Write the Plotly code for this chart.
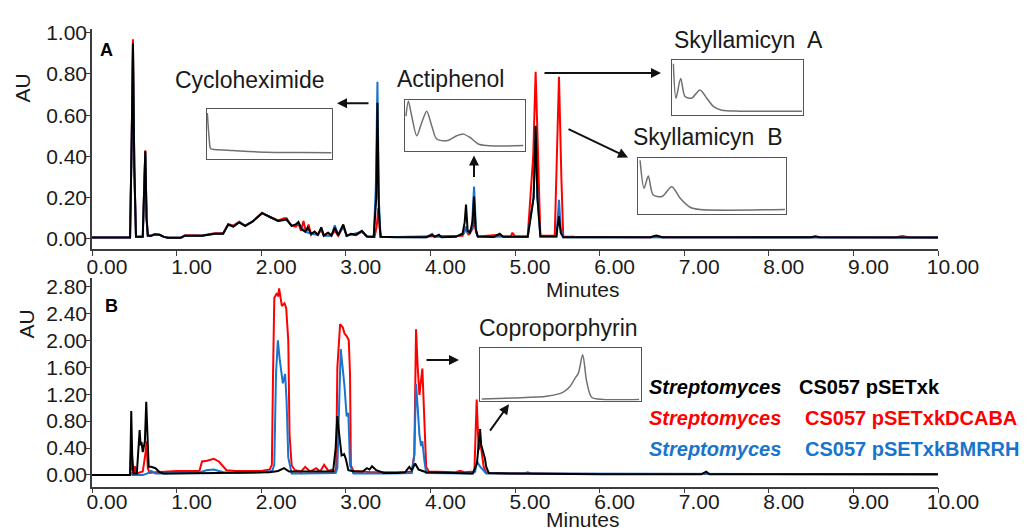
import plotly.graph_objects as go

# ---------------- DATA ----------------
# Panel A chromatograms (time in minutes, absorbance in AU)
a_black_t = [0, 0.45, 0.47, 0.484, 0.50, 0.52, 0.60, 0.615, 0.63, 0.645, 0.66, 0.70, 0.74, 0.80, 0.85, 0.90, 1.05, 1.10, 1.30, 1.45, 1.55,
             1.61, 1.67, 1.74, 1.81, 1.90, 2.01, 2.11, 2.20, 2.30, 2.36, 2.41, 2.44, 2.48, 2.52, 2.55, 2.59, 2.63, 2.67, 2.71, 2.74,
             2.79, 2.83, 2.87, 2.91, 2.97, 3.01, 3.06, 3.12, 3.19, 3.25, 3.33, 3.36, 3.374, 3.39, 3.41, 3.6, 3.95, 4.02, 4.05, 4.10,
             4.13, 4.30, 4.38, 4.405, 4.421, 4.44, 4.47, 4.50, 4.516, 4.535, 4.56, 4.75, 4.82, 4.86, 5.15, 5.22, 5.244, 5.265, 5.30,
             5.49, 5.50, 5.52, 5.54, 5.57, 6.6, 6.67, 6.74, 8.5, 8.55, 8.6, 10.0]
a_black_v = [0.007, 0.007, 0.5, 0.95, 0.35, 0.01, 0.01, 0.2, 0.425, 0.1, 0.015, 0.015, 0.022, 0.02, 0.01, 0.006, 0.006, 0.016, 0.015, 0.025, 0.025,
             0.07, 0.06, 0.08, 0.063, 0.085, 0.125, 0.105, 0.087, 0.095, 0.063, 0.07, 0.082, 0.045, 0.035, 0.055, 0.025, 0.035, 0.02, 0.056, 0.016,
             0.03, 0.016, 0.055, 0.018, 0.07, 0.015, 0.025, 0.02, 0.039, 0.012, 0.01, 0.2, 0.66, 0.15, 0.01, 0.008, 0.008, 0.02, 0.01, 0.02,
             0.008, 0.01, 0.025, 0.08, 0.167, 0.04, 0.03, 0.09, 0.206, 0.05, 0.012, 0.01, 0.025, 0.01, 0.01, 0.2, 0.548, 0.2, 0.012,
             0.012, 0.05, 0.11, 0.03, 0.008, 0.008, 0.016, 0.008, 0.008, 0.013, 0.008, 0.007]

a_red_t = [0, 0.45, 0.47, 0.484, 0.50, 0.52, 0.60, 0.615, 0.63, 0.645, 0.66, 0.70, 0.74, 0.80, 0.85, 0.90, 1.05, 1.10, 1.30, 1.45, 1.55,
           1.61, 1.67, 1.74, 1.81, 1.90, 2.01, 2.11, 2.20, 2.27, 2.30, 2.36, 2.41, 2.44, 2.47, 2.50, 2.53, 2.56, 2.59, 2.63, 2.67, 2.71,
           2.74, 2.79, 2.83, 2.87, 2.91, 2.97, 3.01, 3.06, 3.12, 3.19, 3.25, 3.34, 3.365, 3.385, 3.40, 3.42, 3.6, 4.38, 4.42, 4.45, 4.50,
           4.52, 4.54, 4.56, 4.82, 4.86, 4.95, 4.97, 5.0, 5.15, 5.215, 5.244, 5.275, 5.30, 5.47, 5.495, 5.52, 5.548, 5.57, 5.7, 6.6,
           6.67, 6.74, 9.5, 9.58, 9.65, 10.0]
a_red_v = [0.007, 0.007, 0.5, 0.968, 0.35, 0.01, 0.01, 0.2, 0.43, 0.1, 0.015, 0.017, 0.024, 0.02, 0.01, 0.006, 0.006, 0.018, 0.017, 0.027, 0.027,
           0.072, 0.065, 0.083, 0.063, 0.085, 0.127, 0.105, 0.09, 0.1, 0.1, 0.063, 0.06, 0.075, 0.04, 0.087, 0.03, 0.07, 0.02, 0.035, 0.02, 0.045,
           0.016, 0.03, 0.016, 0.04, 0.015, 0.06, 0.015, 0.022, 0.018, 0.035, 0.012, 0.01, 0.06, 0.15, 0.05, 0.01, 0.009, 0.015, 0.05, 0.02, 0.05,
           0.1, 0.03, 0.012, 0.02, 0.012, 0.012, 0.03, 0.012, 0.012, 0.4, 0.81, 0.35, 0.015, 0.015, 0.4, 0.786, 0.3, 0.012, 0.01, 0.008,
           0.015, 0.008, 0.008, 0.014, 0.008, 0.007]

a_blue_t = [0, 0.45, 0.47, 0.484, 0.50, 0.52, 0.60, 0.615, 0.63, 0.645, 0.66, 0.70, 0.74, 0.80, 0.85, 0.90, 1.05, 1.10, 1.30, 1.45, 1.55,
            1.61, 1.67, 1.74, 1.81, 1.90, 2.01, 2.11, 2.20, 2.30, 2.36, 2.44, 2.52, 2.59, 2.67, 2.71, 2.74, 2.83, 2.87, 2.91, 2.97, 3.01,
            3.19, 3.25, 3.33, 3.355, 3.374, 3.39, 3.41, 3.95, 4.02, 4.05, 4.30, 4.40, 4.42, 4.44, 4.49, 4.516, 4.54, 4.56, 5.15, 5.22,
            5.244, 5.265, 5.30, 5.49, 5.50, 5.52, 5.54, 5.57, 10.0]
a_blue_v = [0.007, 0.007, 0.5, 0.94, 0.35, 0.01, 0.01, 0.2, 0.42, 0.1, 0.015, 0.015, 0.022, 0.02, 0.01, 0.006, 0.006, 0.016, 0.015, 0.025, 0.025,
            0.07, 0.06, 0.082, 0.063, 0.085, 0.125, 0.105, 0.087, 0.093, 0.063, 0.075, 0.035, 0.025, 0.02, 0.05, 0.016, 0.016, 0.066, 0.018, 0.065, 0.015,
            0.035, 0.012, 0.01, 0.25, 0.762, 0.2, 0.01, 0.008, 0.025, 0.01, 0.01, 0.03, 0.06, 0.03, 0.05, 0.254, 0.04, 0.012, 0.01, 0.2,
            0.5, 0.2, 0.012, 0.012, 0.08, 0.19, 0.05, 0.008, 0.007]

# Panel B chromatograms
b_black_t = [0, 0.45, 0.455, 0.464, 0.475, 0.49, 0.53, 0.545, 0.563, 0.575, 0.585, 0.60, 0.625, 0.641, 0.655, 0.67, 0.70, 0.75, 0.80, 0.85,
             1.0, 1.5, 2.0, 2.1, 2.2, 2.27, 2.33, 2.5, 2.7, 2.85, 2.88, 2.90, 2.92, 2.95, 2.98, 3.00, 3.03, 3.1, 3.2, 3.25, 3.28, 3.31,
             3.36, 3.45, 3.6, 3.7, 3.75, 3.78, 3.82, 3.86, 3.95, 4.2, 4.5, 4.55, 4.587, 4.60, 4.625, 4.645, 4.66, 4.69, 5.0, 6.0, 7.2,
             7.26, 7.3, 10.0]
b_black_v = [0.0, 0.0, 0.3, 0.95, 0.3, 0.02, 0.02, 0.3, 0.667, 0.44, 0.49, 0.34, 0.5, 1.085, 0.45, 0.12, 0.12, 0.1, 0.04, 0.02,
             0.02, 0.03, 0.04, 0.04, 0.06, 0.1, 0.05, 0.05, 0.05, 0.05, 0.4, 0.875, 0.63, 0.29, 0.31, 0.24, 0.07, 0.05, 0.05, 0.1, 0.08, 0.13,
             0.07, 0.03, 0.03, 0.04, 0.12, 0.07, 0.17, 0.08, 0.04, 0.03, 0.02, 0.17, 0.68, 0.45, 0.34, 0.24, 0.12, 0.03, 0.02, 0.01, 0.01,
             0.05, 0.01, 0.01]

b_red_t = [0, 0.45, 0.455, 0.462, 0.47, 0.49, 0.50, 0.51, 0.52, 0.60, 0.63, 0.645, 0.66, 0.68, 0.75, 0.85, 1.0, 1.27, 1.30, 1.36, 1.44,
           1.50, 1.59, 1.7, 2.0, 2.10, 2.126, 2.14, 2.155, 2.185, 2.20, 2.212, 2.244, 2.275, 2.295, 2.32, 2.335, 2.36, 2.40, 2.47,
           2.52, 2.578, 2.65, 2.697, 2.744, 2.795, 2.835, 2.874, 2.886, 2.90, 2.933, 2.965, 2.985, 3.012, 3.035, 3.05, 3.06, 3.09,
           3.3, 3.7, 3.78, 3.81, 3.83, 3.85, 3.87, 3.905, 3.93, 3.95, 3.98, 4.3, 4.35, 4.40, 4.52, 4.535, 4.547, 4.56, 4.57, 4.58,
           4.595, 4.61, 4.63, 4.66, 5.0, 6.0, 10.0]
b_red_v = [0.0, 0.0, 0.2, 0.41, 0.1, 0.02, 0.02, 0.13, 0.02, 0.05, 0.3, 0.5, 0.1, 0.03, 0.04, 0.05, 0.06, 0.06, 0.2, 0.21, 0.24,
           0.2, 0.07, 0.06, 0.06, 0.08, 0.15, 1.5, 2.63, 2.7, 2.65, 2.77, 2.51, 2.55, 2.48, 2.0, 0.6, 0.14, 0.07, 0.05,
           0.12, 0.05, 0.1, 0.05, 0.15, 0.06, 0.08, 0.04, 0.1, 1.59, 2.24, 2.19, 2.1, 2.06, 2.0, 1.5, 0.14, 0.06,
           0.04, 0.04, 0.05, 0.3, 2.165, 1.6, 1.19, 1.58, 0.8, 0.12, 0.05, 0.04, 0.06, 0.04, 0.05, 0.5, 1.12, 0.7, 0.37, 0.42,
           0.45, 0.3, 0.12, 0.03, 0.02, 0.015, 0.01]

b_blue_t = [0, 0.45, 0.46, 0.48, 0.6, 0.65, 0.70, 0.75, 0.85, 1.0, 1.25, 1.35, 1.44, 1.55, 1.7, 2.0, 2.13, 2.155, 2.175, 2.197, 2.22,
            2.256, 2.283, 2.30, 2.32, 2.36, 2.5, 2.7, 2.88, 2.90, 2.92, 2.94, 2.97, 2.985, 3.01, 3.03, 3.05, 3.09, 3.5, 3.78, 3.81,
            3.83, 3.85, 3.87, 3.89, 3.905, 3.93, 3.95, 4.5, 4.53, 4.55, 4.57, 4.59, 4.62, 4.66, 5.1, 5.15, 5.2, 10.0]
b_blue_v = [0.0, 0.0, 0.03, 0.0, 0.0, 0.02, 0.06, 0.02, 0.02, 0.03, 0.03, 0.07, 0.08, 0.04, 0.03, 0.04, 0.06, 0.15, 1.5, 2.0, 1.7,
            1.36, 1.5, 1.1, 0.26, 0.02, 0.02, 0.02, 0.03, 0.1, 1.2, 1.87, 1.5, 1.31, 0.87, 0.92, 0.14, 0.02, 0.02, 0.03, 0.3,
            1.35, 1.0, 0.6, 0.43, 0.5, 0.2, 0.03, 0.02, 0.05, 0.2, 0.15, 0.12, 0.08, 0.02, 0.02, 0.04, 0.02, 0.01]

# UV spectra insets (relative wavelength position 0-1, relative absorbance 0-1)
cyclo_x = [0.005, 0.02, 0.032, 0.066, 0.21, 0.477, 0.742, 0.993]
cyclo_y = [0.92, 0.4, 0.198, 0.184, 0.164, 0.13, 0.125, 0.119]
acti_x = [0.008, 0.028, 0.056, 0.098, 0.139, 0.181, 0.223, 0.264, 0.348, 0.431, 0.486, 0.542, 0.611, 0.681, 0.792, 0.986]
acti_y = [0.681, 0.968, 0.681, 0.30, 0.553, 0.777, 0.49, 0.237, 0.204, 0.30, 0.332, 0.267, 0.141, 0.109, 0.10, 0.109]
skya_x = [0.008, 0.028, 0.064, 0.097, 0.148, 0.211, 0.263, 0.313, 0.377, 0.517, 0.99]
skya_y = [0.94, 0.314, 0.671, 0.345, 0.314, 0.464, 0.314, 0.166, 0.095, 0.077, 0.077]
skyb_x = [0.012, 0.039, 0.068, 0.10, 0.161, 0.227, 0.283, 0.351, 0.419, 0.995]
skyb_y = [0.953, 0.463, 0.676, 0.347, 0.317, 0.49, 0.289, 0.127, 0.087, 0.087]
copro_x = [0.011, 0.205, 0.415, 0.518, 0.56, 0.591, 0.612, 0.639, 0.664, 0.695, 0.767, 0.99]
copro_y = [0.03, 0.049, 0.081, 0.161, 0.268, 0.424, 0.518, 0.874, 0.362, 0.062, 0.019, 0.019]

x_ticks = [0, 1, 2, 3, 4, 5, 6, 7, 8, 9, 10]
x_tick_text = ["0.00", "1.00", "2.00", "3.00", "4.00", "5.00", "6.00", "7.00", "8.00", "9.00", "10.00"]
ya_ticks = [0, 0.2, 0.4, 0.6, 0.8, 1.0]
yb_ticks = [0, 0.4, 0.8, 1.2, 1.6, 2.0, 2.4, 2.8]

# ---------------- STYLE ----------------
BLACK = "#000000"
RED = "#FF0000"
BLUE = "#1874CD"
GRAY = "#707070"
AXC = "#3c3c3c"
FONT = "Liberation Sans, Arial, sans-serif"
W, H = 1035, 530
L, R = 92, 97
PW = W - L - R


def px_x(px):
    return (px - L) / PW


def px_y(py):
    return 1 - py / H


fig = go.Figure()

for t, v, c in [(a_red_t, a_red_v, RED), (a_blue_t, a_blue_v, BLUE), (a_black_t, a_black_v, BLACK)]:
    fig.add_trace(go.Scatter(x=t, y=v, mode="lines", line=dict(color=c, width=2), xaxis="x", yaxis="y", showlegend=False))
for t, v, c in [(b_red_t, b_red_v, RED), (b_blue_t, b_blue_v, BLUE), (b_black_t, b_black_v, BLACK)]:
    fig.add_trace(go.Scatter(x=t, y=v, mode="lines", line=dict(color=c, width=2), xaxis="x2", yaxis="y2", showlegend=False))

insets = [
    (cyclo_x, cyclo_y, (206.7, 332.3, 102.7, 153.3)),
    (acti_x, acti_y, (405, 525, 93.3, 145.7)),
    (skya_x, skya_y, (672.3, 803.3, 53.3, 109.3)),
    (skyb_x, skyb_y, (638.3, 785.7, 152.3, 210)),
    (copro_x, copro_y, (480, 640.7, 346, 399.3)),
]

layout_axes = {}
for i, (ix, iy, box) in enumerate(insets):
    n = i + 3
    fig.add_trace(go.Scatter(x=ix, y=iy, mode="lines", line=dict(color=GRAY, width=1.5, shape="spline", smoothing=0.8),
                             xaxis=f"x{n}", yaxis=f"y{n}", showlegend=False, cliponaxis=True))
    x0, x1, y0, y1 = box
    common = dict(showline=True, mirror=True, linecolor="#555555", linewidth=1, showticklabels=False,
                  ticks="", showgrid=False, zeroline=False, range=[0, 1], fixedrange=True)
    layout_axes[f"xaxis{n}"] = dict(domain=[px_x(x0), px_x(x1)], anchor=f"y{n}", **common)
    layout_axes[f"yaxis{n}"] = dict(domain=[px_y(y1), px_y(y0)], anchor=f"x{n}", **common)

xcommon = dict(range=[0, 10], tickvals=x_ticks, ticktext=x_tick_text, ticks="outside", ticklen=5, tickwidth=1.2,
               tickcolor=AXC, showline=True, linecolor=AXC, linewidth=1.5, showgrid=False, zeroline=False,
               tickfont=dict(family=FONT, size=21, color="#1a1a1a"), ticklabelshift=15)
ycommon = dict(ticks="outside", ticklen=4, tickwidth=1.2, tickcolor=AXC, showline=True, linecolor=AXC, linewidth=1.5,
               showgrid=False, zeroline=False, tickformat=".2f", tickfont=dict(family=FONT, size=21, color="#1a1a1a"),
               ticklabelstandoff=-5)

fig.update_layout(
    width=W, height=H, autosize=False,
    margin=dict(l=L, r=R, t=0, b=0, pad=0),
    paper_bgcolor="white", plot_bgcolor="white",
    xaxis=dict(domain=[0, 1], anchor="y", ticklabelstandoff=-7, **xcommon),
    yaxis=dict(domain=[px_y(245), px_y(21.7)], anchor="x", range=[-0.048, 1.016], tickvals=ya_ticks, **ycommon),
    xaxis2=dict(domain=[0, 1], anchor="y2", ticklabelstandoff=-10, **xcommon),
    yaxis2=dict(domain=[px_y(487), px_y(275)], anchor="x2", range=[-0.175, 2.92], tickvals=yb_ticks, **ycommon),
    **layout_axes,
)

ann = []


def text(px, py, s, size=23, color="#1a1a1a", xanchor="center", angle=0, bold=False):
    ann.append(dict(x=px_x(px), y=px_y(py), xref="paper", yref="paper", text=(f"<b>{s}</b>" if bold else s),
                    showarrow=False, xanchor=xanchor, yanchor="middle", textangle=angle,
                    font=dict(family=FONT, size=size, color=color)))


def arrow(x0, y0, x1, y1):
    ann.append(dict(x=px_x(x1), y=px_y(y1), xref="paper", yref="paper", text="", showarrow=True,
                    ax=x0 - x1, ay=y0 - y1, axref="pixel", ayref="pixel", arrowhead=2, arrowsize=1,
                    arrowwidth=2, arrowcolor="#111111", standoff=0, startstandoff=0))


text(250, 73, "Cycloheximide")
text(450, 72, "Actiphenol")
text(748, 33, "Skyllamicyn\u00a0 A")
text(708, 131, "Skyllamicyn\u00a0 B")
text(558, 326, "Coproporphyrin")
text(23, 82, "AU", size=21, angle=-90)
text(27, 322, "AU", size=21, angle=-90)
text(583, 286, "Minutes", size=21)
text(583, 520, "Minutes", size=21)
text(106.5, 42.5, "A", size=18, bold=True, color="#000000")
text(111.5, 303.5, "B", size=18, bold=True, color="#000000")

for py, name, col, x2 in [(386, "CS057 pSETxk", BLACK, 797), (417, "CS057 pSETxkDCABA", RED, 803),
                          (449, "CS057 pSETxkBMRRH", BLUE, 803)]:
    text(647, py, "<b><i>Streptomyces</i></b>", size=20, color=col, xanchor="left")
    text(x2, py, name, size=20, color=col, xanchor="left", bold=True)

arrow(370, 97, 337, 97)
arrow(474, 173, 474, 150)
arrow(543, 66, 661, 66)
arrow(567, 123, 628, 152)
arrow(425, 358, 459, 358)
arrow(489, 431, 509, 403)

fig.update_layout(annotations=ann)

fig.write_html("out.html", config={"displayModeBar": False},
               post_script="document.body.style.margin='0';document.body.style.overflow='hidden';")
